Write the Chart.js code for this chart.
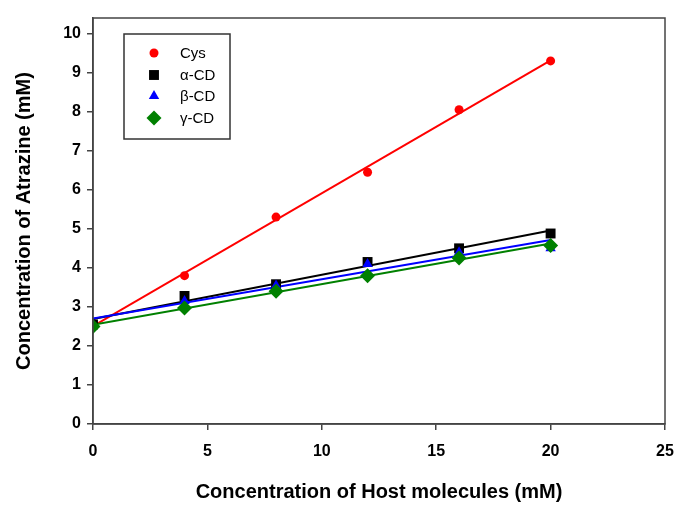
<!DOCTYPE html>
<html>
<head>
<meta charset="utf-8">
<script src="https://cdn.jsdelivr.net/npm/chart.js@4"></script>
<style>
  html, body { margin: 0; padding: 0; background: #fff; }
  #wrap { width: 690px; height: 517px; }
</style>
</head>
<body>
<div id="wrap"><canvas id="myChart" width="690" height="517"></canvas></div>
<script>
// host concentration (mM)
const hostConc = [0, 4, 8, 12, 16, 20];
// atrazine concentration (mM) for each host
const cys = [2.55, 3.8, 5.3, 6.45, 8.05, 9.3];
const alphaCD = [2.55, 3.28, 3.58, 4.15, 4.5, 4.88];
const betaCD = [2.55, 3.15, 3.55, 4.1, 4.4, 4.5];
const gammaCD = [2.5, 2.97, 3.4, 3.8, 4.25, 4.57];

const names = ['Cys', 'α-CD', 'β-CD', 'γ-CD'];
const colors = ['rgb(255,0,0)', 'rgb(0,0,0)', 'rgb(0,0,255)', 'rgb(0,128,0)'];
const shapes = ['circle', 'rect', 'triangle', 'rectRot'];
const radii = [4.5, 7, 6, 7.5];
const yTicks = [0, 1, 2, 3, 4, 5, 6, 7, 8, 9, 10];

// least squares fit line through the points
function fitLine(xs, ys) {
    let n = xs.length, mx = 0, my = 0;
    for (let i = 0; i < n; i++) { mx += xs[i]; my += ys[i]; }
    mx /= n; my /= n;
    let sxy = 0, sxx = 0;
    for (let i = 0; i < n; i++) {
        sxy += (xs[i] - mx) * (ys[i] - my);
        sxx += (xs[i] - mx) * (xs[i] - mx);
    }
    let b = sxy / sxx, a = my - b * mx;
    let x0 = xs[0], x1 = xs[n - 1];
    return [{x: x0, y: a + b * x0}, {x: x1, y: a + b * x1}];
}

const series = [cys, alphaCD, betaCD, gammaCD];
const datasets = [];
series.forEach((vals, i) => {
    datasets.push({
        label: names[i] + ' fit',
        data: fitLine(hostConc, vals),
        showLine: true,
        borderColor: colors[i],
        borderWidth: 2,
        pointRadius: 0,
        order: 20 - i
    });
});
series.forEach((vals, i) => {
    datasets.push({
        label: names[i],
        data: hostConc.map((x, k) => ({x: x, y: vals[k]})),
        showLine: false,
        pointStyle: shapes[i],
        pointRadius: radii[i],
        backgroundColor: colors[i],
        borderColor: colors[i],
        borderWidth: 0,
        order: 10 - i
    });
});

// frame around plot + legend box
const framePlugin = {
    id: 'frame',
    afterDraw(chart) {
        const c = chart.ctx, a = chart.chartArea;
        c.save();
        c.strokeStyle = '#444';
        c.lineWidth = 1.5;
        c.strokeRect(a.left, a.top, a.right - a.left, a.bottom - a.top);

        // legend
        c.strokeStyle = '#333';
        c.strokeRect(124, 34, 106, 105);
        c.font = '15px "Liberation Sans", Arial, sans-serif';
        c.textBaseline = 'middle';
        c.textAlign = 'left';
        const ys = [53, 75, 96, 118];
        names.forEach((n, i) => {
            c.fillStyle = colors[i];
            c.strokeStyle = colors[i];
            Chart.helpers.drawPoint(c, {pointStyle: shapes[i], radius: radii[i], rotation: 0, borderWidth: 0}, 154, ys[i]);
            c.fillStyle = '#000';
            c.fillText(n, 180, ys[i] + 1);
        });
        c.restore();
    }
};

const ctx = document.getElementById('myChart').getContext('2d');
const myChart = new Chart(ctx, {
    type: 'scatter',
    data: { datasets: datasets },
    plugins: [framePlugin],
    options: {
        responsive: false,
        animation: false,
        layout: { padding: { left: 0, top: 18, right: 25, bottom: 0 } },
        plugins: {
            legend: { display: false },
            tooltip: { enabled: false }
        },
        scales: {
            x: {
                type: 'linear',
                min: 0, max: 25,
                afterFit(s) { s.height = 93; },
                ticks: {
                    stepSize: 5,
                    color: '#000',
                    padding: 12,
                    font: { family: '"Liberation Sans", Arial', size: 16, weight: 'bold' }
                },
                grid: { drawOnChartArea: false, tickLength: 6, color: '#444', lineWidth: 1.5 },
                border: { color: '#444', width: 1.5 },
                title: {
                    display: true,
                    text: 'Concentration of Host molecules (mM)',
                    color: '#000',
                    padding: { top: 0, bottom: 13 },
                    font: { family: '"Liberation Sans", Arial', size: 20, weight: 'bold' }
                }
            },
            y: {
                type: 'linear',
                min: 0, max: 10.4,
                afterFit(s) { s.width = 93; },
                afterBuildTicks(s) { s.ticks = yTicks.map(v => ({value: v})); },
                ticks: {
                    color: '#000',
                    padding: 6,
                    font: { family: '"Liberation Sans", Arial', size: 16, weight: 'bold' }
                },
                grid: { drawOnChartArea: false, tickLength: 6, color: '#444', lineWidth: 1.5 },
                border: { color: '#444', width: 1.5 },
                title: {
                    display: true,
                    text: 'Concentration of Atrazine (mM)',
                    color: '#000',
                    padding: { top: 12, bottom: 0 },
                    font: { family: '"Liberation Sans", Arial', size: 20, weight: 'bold' }
                }
            }
        }
    }
});
</script>
</body>
</html>
